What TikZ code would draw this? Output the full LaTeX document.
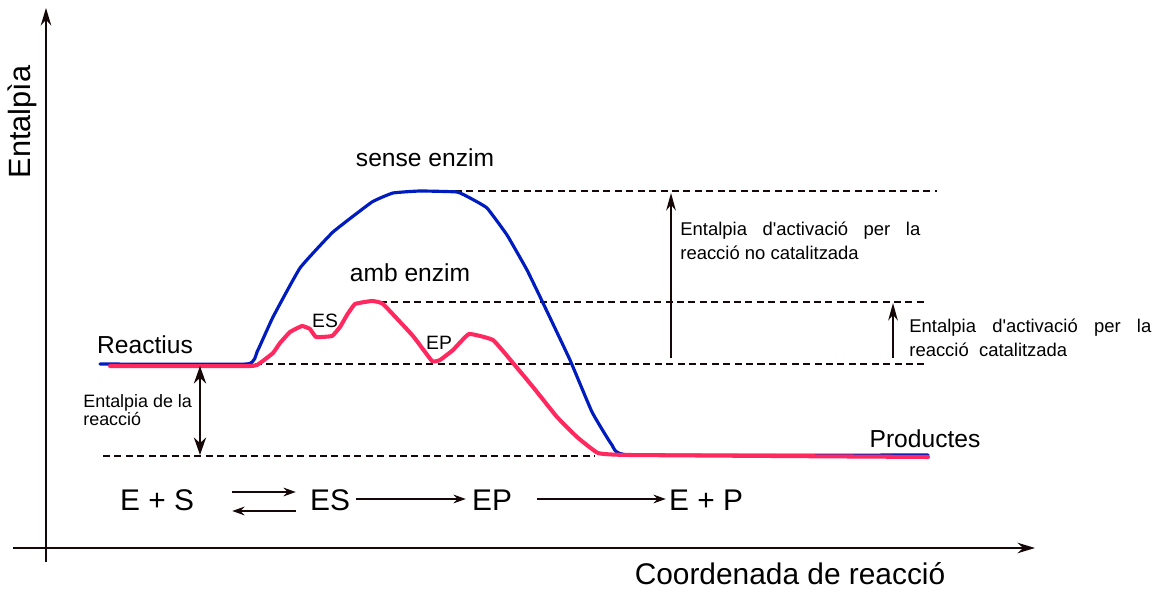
\documentclass[tikz,border=0pt]{standalone}
\usepackage{fontspec}
\setmainfont{Liberation Sans}
\usetikzlibrary{arrows.meta}
\definecolor{curveblue}{RGB}{0,28,190}
\definecolor{curvepink}{RGB}{255,40,95}
\definecolor{ink}{RGB}{22,8,8}
\newcommand{\fs}[2]{\fontsize{#1}{#2}\selectfont}
\newcommand{\apos}{\textquotesingle}
\begin{document}
\begin{tikzpicture}[x=0.02cm,y=-0.02cm,
  axisline/.style={draw=ink, line width=0.9pt, -{Stealth[length=10pt,width=6pt]}},
  guide/.style={draw=ink, line width=0.8pt, dash pattern=on 4pt off 2.5pt},
  meas/.style={draw=ink, line width=0.9pt, -{Stealth[length=10pt,width=5.5pt]}},
  measboth/.style={draw=ink, line width=0.9pt, {Stealth[length=10pt,width=7pt]}-{Stealth[length=10pt,width=7pt]}},
  rxn/.style={draw=ink, line width=0.8pt, -{Stealth[length=7pt,width=5pt]}},
  lbl/.style={inner sep=0pt, text=black},
  bigtxt/.style={lbl, font=\fs{17}{20}},
  midtxt/.style={lbl, font=\fs{14}{17}},
  smalltxt/.style={lbl, font=\fs{10.5}{13.4}, align=left},
  bluecurve/.style={draw=curveblue, line width=1.8pt, line join=round, line cap=round},
  pinkcurve/.style={draw=curvepink, line width=2.3pt, line join=round, line cap=round}
]
\useasboundingbox (0,0) rectangle (1159,590);

% axes
\coordinate (yb) at (46,562); \coordinate (yt) at (46,8);
\coordinate (xl) at (13,548); \coordinate (xr) at (1035,548);
\draw[axisline] (yb) -- (yt);
\draw[axisline] (xl) -- (xr);
\node[lbl, rotate=90, font=\fs{17.5}{20}] (ylab) at (22,122) {Entalpìa};
\node[bigtxt] (xlab) at (790,574) {Coordenada de reacció};

% guide lines
\coordinate (g1a) at (455,191); \coordinate (g1b) at (937,191);
\coordinate (g2a) at (380,302); \coordinate (g2b) at (928,302);
\coordinate (g3a) at (255,364); \coordinate (g3b) at (928,364);
\coordinate (g4a) at (103,456); \coordinate (g4b) at (595,456);
\draw[guide] (g1a) -- (g1b);
\draw[guide] (g2a) -- (g2b);
\draw[guide] (g3a) -- (g3b);
\draw[guide] (g4a) -- (g4b);

% curves
\draw[bluecurve] plot[smooth, tension=0.2] coordinates {(100,364) (247,364) (257,352) (273,317) (300,268) (333,232) (372,202) (393,193) (420,191) (457,192) (470,198) (487,208) (507,235) (527,270) (543,303) (570,360) (592,412) (612,445) (630,455) (928,455)};
\draw[pinkcurve] plot[smooth, tension=0.2] coordinates {(110,366) (250,366) (260,363) (273,353) (280,343) (290,332) (302,326) (310,329) (316,337) (332,336) (340,327) (347,315) (355,304) (372,301) (383,304) (413,336) (432,361) (440,360) (453,350) (469,334) (493,340) (513,363) (533,387) (557,417) (577,437) (598,453) (630,455) (928,457)};

% measurement arrows
\coordinate (m1a) at (671,358); \coordinate (m1b) at (671,193);
\coordinate (m2a) at (893,358); \coordinate (m2b) at (893,303);
\coordinate (m3a) at (200,366); \coordinate (m3b) at (200,455);
\draw[meas] (m1a) -- (m1b);
\draw[meas] (m2a) -- (m2b);
\draw[measboth] (m3a) -- (m3b);

% labels
\node[midtxt] (sense) at (425,158) {sense enzim};
\node[midtxt] (amb) at (410,273) {amb enzim};
\node[lbl, font=\fs{11}{13}] (esl) at (325,321) {ES};
\node[lbl, font=\fs{11}{13}] (epl) at (439,343) {EP};
\node[midtxt] (reac) at (145,345) {Reactius};
\node[midtxt] (prod) at (925,439) {Productes};
\node[smalltxt, anchor=west, font=\fs{10.2}{10.6}] (dh) at (83,410) {Entalpia de la\\reacció};
\node[smalltxt, anchor=west] (ea1) at (680,241) {\makebox[4.8cm][s]{Entalpia d\apos activació per la}\\reacció no catalitzada};
\node[smalltxt, anchor=west] (ea2) at (909,338) {\makebox[4.84cm][s]{Entalpia d\apos activació per la}\\reacció\ \ catalitzada};

% reaction scheme
\node[bigtxt] (es0) at (157,500) {E + S};
\node[bigtxt] (es) at (330,500) {ES};
\node[bigtxt] (ep) at (492,500) {EP};
\node[bigtxt] (epp) at (706,500) {E + P};
\draw[rxn, shorten <=0.76cm, shorten >=0.28cm] ([yshift=0.16cm]es0.east) -- ([yshift=0.16cm]es.west);
\draw[rxn, shorten <=0.28cm, shorten >=0.76cm] ([yshift=-0.22cm]es.west) -- ([yshift=-0.22cm]es0.east);
\draw[rxn, shorten <=0.12cm, shorten >=0.12cm] ([yshift=0.02cm]es.east) -- ([yshift=0.02cm]ep.west);
\draw[rxn, shorten <=0.5cm, shorten >=0.06cm] ([yshift=0.02cm]ep.east) -- ([yshift=0.02cm]epp.west);
\end{tikzpicture}
\end{document}
